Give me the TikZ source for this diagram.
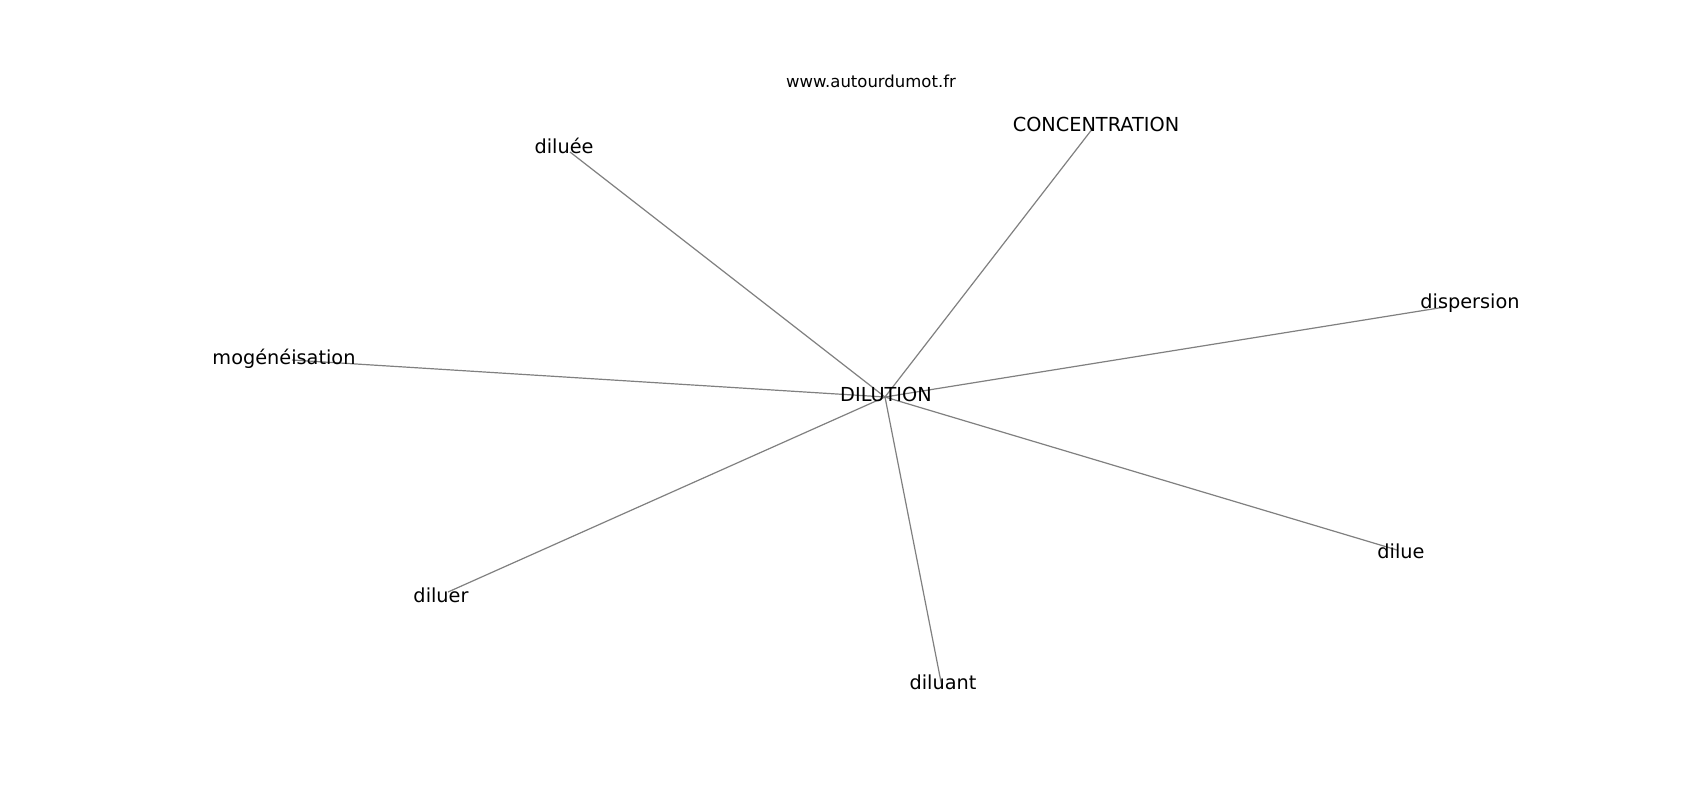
\documentclass[tikz,border=0pt]{standalone}
\usepackage{fontspec}
\setmainfont{DejaVu Sans}
\begin{document}
\begin{tikzpicture}[x=1pt,y=-1pt,
  word/.style={anchor=base,inner sep=0pt,font=\fontsize{19.3}{19.3}\selectfont,text=black},
  site/.style={anchor=base,inner sep=0pt,font=\fontsize{16.5}{16.5}\selectfont,text=black},
  link/.style={draw=black!50,line width=1.2pt}]
\useasboundingbox[fill=white] (0,0) rectangle (1700,800);
% hub and edge ends
\coordinate (hub) at (885,397);
\coordinate (eDiluee) at (570,152);
\coordinate (eConc) at (1093,128);
\coordinate (eDisp) at (1445,307);
\coordinate (eMog) at (292,360);
\coordinate (eDilue) at (1397,550);
\coordinate (eDiluer) at (448,592);
\coordinate (eDiluant) at (942,687);
% connectors
\foreach \e in {eDiluee,eConc,eDisp,eMog,eDilue,eDiluer,eDiluant}
  \draw[link] (hub) -- (\e);
% labels
\node[site] (site) at (871,88) {www.autourdumot.fr};
\node[word] (conc) at (1096,131) {CONCENTRATION};
\node[word] (diluee) at (564,153) {diluée};
\node[word] (disp) at (1470,308) {dispersion};
\node[word] (mog) at (284,364) {mogénéisation};
\node[word] (dilution) at (886,401) {DILUTION};
\node[word] (dilue) at (1401,558) {dilue};
\node[word] (diluer) at (441,602) {diluer};
\node[word] (diluant) at (943,689) {diluant};
\end{tikzpicture}
\end{document}
